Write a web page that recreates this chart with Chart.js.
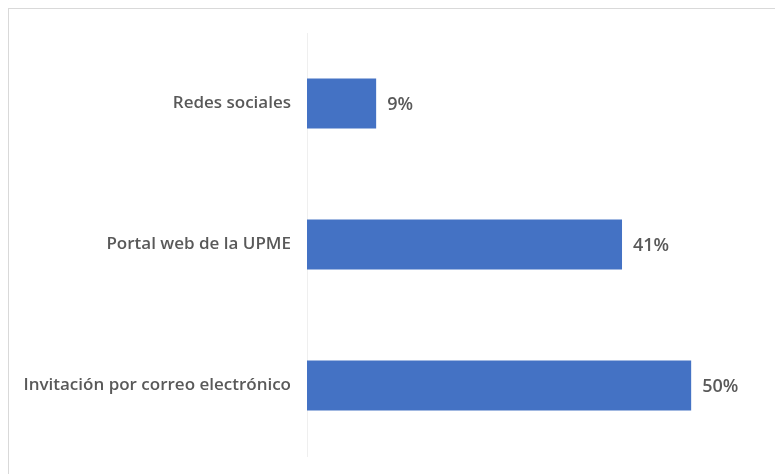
<!DOCTYPE html>
<html>
<head>
<meta charset="utf-8">
<script src="https://cdn.jsdelivr.net/npm/chart.js@4"></script>
<style>
  html, body { margin: 0; padding: 0; background: #fff; overflow: hidden; }
  #frame { position: absolute; left: 8px; top: 8px; width: 800px; height: 500px; border: 1px solid #d9d9d9; box-sizing: border-box; }
  #wrap { position: absolute; left: 0; top: 0; width: 775px; height: 474px; }
</style>
</head>
<body>
<div id="frame"></div>
<div id="wrap"><canvas id="barChart"></canvas></div>
<script>
const categories = ['Redes sociales', 'Portal web de la UPME', 'Invitación por correo electrónico'];
const values = [9, 41, 50];

const barLabels = {
  id: 'barLabels',
  afterDatasetsDraw(chart) {
    const ctx = chart.ctx;
    ctx.save();
    ctx.font = '600 18px "Open Sans"';
    ctx.fillStyle = '#595959';
    ctx.textBaseline = 'middle';
    chart.getDatasetMeta(0).data.forEach((bar, i) => {
      ctx.fillText(values[i] + '%', bar.x + 11, bar.y + 1);
    });
    ctx.restore();
  }
};

new Chart(document.getElementById('barChart'), {
  type: 'bar',
  data: {
    labels: categories,
    datasets: [{
      data: values,
      backgroundColor: '#4472c4',
      borderWidth: 0,
      barPercentage: 0.71,
      categoryPercentage: 0.5
    }]
  },
  options: {
    indexAxis: 'y',
    responsive: true,
    maintainAspectRatio: false,
    animation: false,
    layout: { padding: { top: 33, bottom: 18, right: 7, left: 0 } },
    plugins: { legend: { display: false }, tooltip: { enabled: false } },
    scales: {
      x: { display: false, min: 0, max: 60 },
      y: {
        afterFit: (scale) => {
          scale.width = 307;
          scale.paddingTop = 0;
          scale.paddingBottom = 0;
        },
        grid: { display: false, drawTicks: false },
        border: { display: true, color: '#efefef' },
        ticks: { color: '#595959', padding: 16, font: { family: 'Open Sans', size: 17, weight: '600' } }
      }
    }
  },
  plugins: [barLabels]
});
</script>
</body>
</html>
